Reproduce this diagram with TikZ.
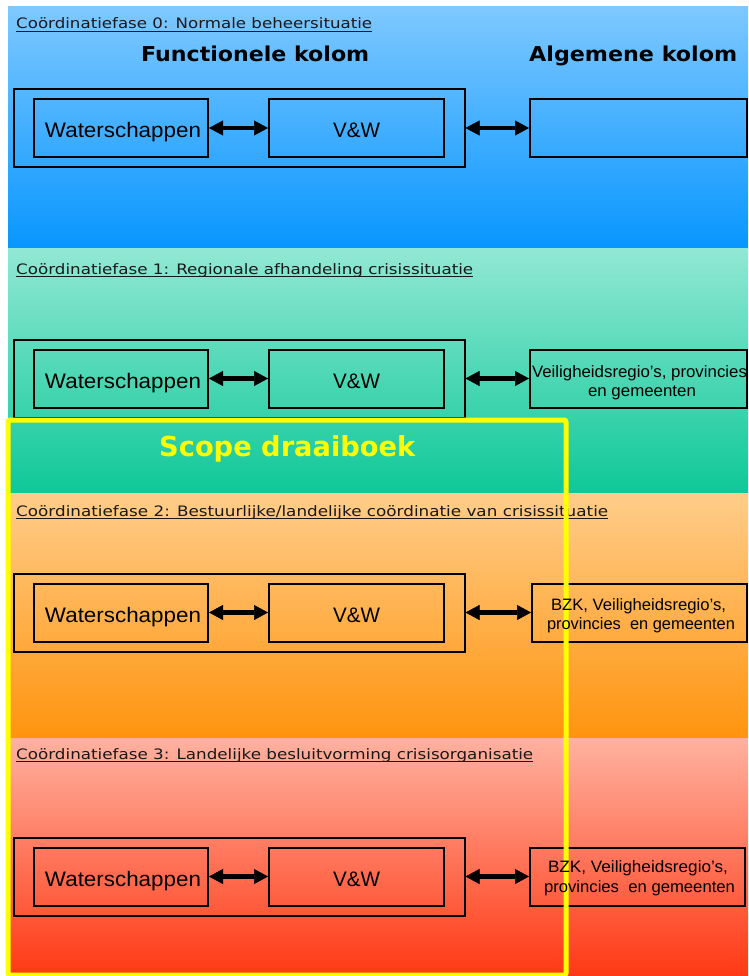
\documentclass[tikz,border=0pt]{standalone}
\usepackage{fontspec}
\setmainfont{Liberation Sans}
\newfontfamily\dvsans{DejaVu Sans}
\usetikzlibrary{arrows.meta}
\definecolor{bzt}{RGB}{126,200,255}
\definecolor{bzb}{RGB}{8,150,255}
\definecolor{bot}{RGB}{146,232,212}
\definecolor{bob}{RGB}{14,200,152}
\definecolor{btt}{RGB}{255,205,138}
\definecolor{btb}{RGB}{255,148,14}
\definecolor{bht}{RGB}{255,178,160}
\definecolor{bhb}{RGB}{255,56,20}
\definecolor{scopeyel}{RGB}{255,255,0}
\definecolor{headtxt}{RGB}{25,25,25}
\newcommand\fitw[2]{\resizebox{#1}{\height}{#2}}
\tikzset{
  box/.style={draw=black, line width=2pt, inner sep=0pt, minimum height=58pt},
  outerbox/.style={draw=black, line width=2pt, inner sep=0pt, minimum width=451pt, minimum height=78pt},
  dbl/.style={line width=4.5pt, {Triangle[length=14pt,width=15pt,line width=0.5pt]}-{Triangle[length=14pt,width=15pt,line width=0.5pt]}},
  phasehead/.style={anchor=base west, inner sep=0pt, text=headtxt, font=\dvsans\fontsize{14.4}{17}\selectfont},
  uline/.style={line width=1.2pt, draw=headtxt},
  coltitle/.style={anchor=base west, inner sep=0pt, font=\dvsans\bfseries\fontsize{20.5}{24}\selectfont},
  lbl/.style={anchor=base, inner sep=0pt, font=\fontsize{21}{24}\selectfont},
  rlbl/.style={anchor=base, inner sep=0pt, font=\fontsize{16.5}{19}\selectfont},
}
\begin{document}
\begin{tikzpicture}[x=1pt,y=-1pt]
\useasboundingbox (0,0) rectangle (748,976);
\fill[white] (0,0) rectangle (748,976);
% bands
\shade[top color=bzt, bottom color=bzb] (8,7) rectangle (748,248);
\shade[top color=bot, bottom color=bob] (8,248) rectangle (748,493);
\shade[top color=btt, bottom color=btb] (8,493) rectangle (748,738);
\shade[top color=bht, bottom color=bhb] (8,738) rectangle (748,976);

% phase headings
\node[phasehead] (h0) at (16,29) {\fitw{356pt}{Coördinatiefase 0: Normale beheersituatie}};
\node[phasehead] (h1) at (16,274) {\fitw{457pt}{Coördinatiefase 1: Regionale afhandeling crisissituatie}};
\node[phasehead] (h2) at (16,516) {\fitw{592pt}{Coördinatiefase 2: Bestuurlijke/landelijke coördinatie van crisissituatie}};
\node[phasehead] (h3) at (16,759) {\fitw{517pt}{Coördinatiefase 3: Landelijke besluitvorming crisisorganisatie}};
\foreach \h in {h0,h1,h2,h3}
  \draw[uline] ([yshift=-2.5pt]\h.base west) -- ([yshift=-2.5pt]\h.base east);

% column titles
\node[coltitle] (fk) at (141,62) {\fitw{228pt}{Functionele kolom}};
\node[coltitle] (ak) at (529,62) {\fitw{208pt}{Algemene kolom}};

% boxes for every phase
\foreach \p/\y/\rx/\rw in {0/128/638.5/217, 1/378.5/638.5/217, 2/612.5/639.5/215, 3/876.5/637.5/215}{
  \node[outerbox] (o\p) at (239,\y) {};
  \node[box, minimum width=174pt] (w\p) at (121,\y) {};
  \node[box, minimum width=175pt] (v\p) at (356.5,\y) {};
  \node[box, minimum width=\rw pt] (r\p) at (\rx,\y) {};
  \draw[dbl] (w\p) -- (v\p);
  \draw[dbl] (o\p) -- (r\p);
}

% scope frame
\draw[scopeyel, line width=5pt, rounded corners=2pt] (8,420) rectangle (566,975);

% labels
\foreach \p/\y in {0/128, 1/378.5, 2/612.5, 3/876.5}{
  \node[lbl] (tw\p) at (123,\y+9.5) {\fitw{156pt}{Waterschappen}};
  \node[lbl] (tv\p) at (356.5,\y+9.5) {\fitw{47pt}{V\&W}};
}
\node[rlbl] (r1a) at (639.5,377) {\fitw{215pt}{Veiligheidsregio’s, provincies}};
\node[rlbl] (r1b) at (642,396) {\fitw{108pt}{en gemeenten}};
\node[rlbl] (r2a) at (638.5,610) {\fitw{175pt}{BZK, Veiligheidsregio’s,}};
\node[rlbl] (r2b) at (641,629) {\fitw{188pt}{provincies~ en gemeenten}};
\node[rlbl] (r3a) at (638,872) {\fitw{180pt}{BZK, Veiligheidsregio’s,}};
\node[rlbl] (r3b) at (639.5,892) {\fitw{191pt}{provincies~ en gemeenten}};

\node[anchor=base west, inner sep=0pt, text=scopeyel, font=\dvsans\bfseries\fontsize{27.5}{30}\selectfont] (scope) at (159,456) {\fitw{256pt}{Scope draaiboek}};
\end{tikzpicture}
\end{document}
